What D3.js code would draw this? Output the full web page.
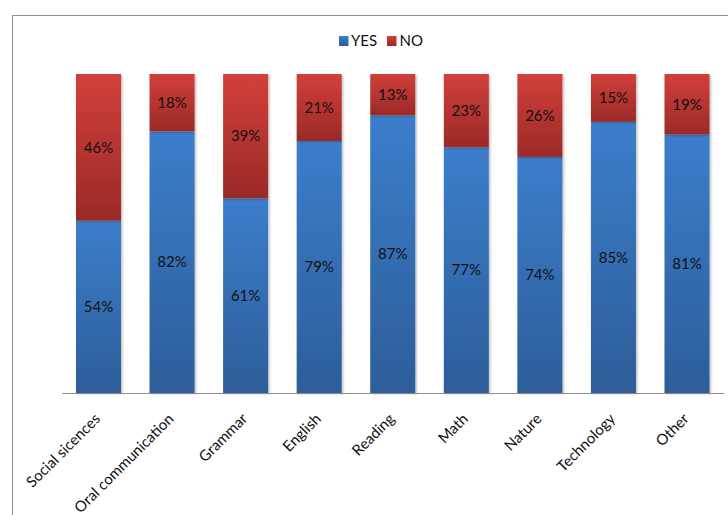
<!DOCTYPE html>
<html><head><meta charset="utf-8">
<script src="https://cdn.jsdelivr.net/npm/d3@7"></script>
<style>body{margin:0;background:#fff;} svg{display:block;font-family:Lato,"Open Sans",sans-serif;}</style>
</head><body>
<svg id="c" width="728" height="515"></svg>
<script>
const categories = ["Social sicences","Oral communication","Grammar","English","Reading","Math","Nature","Technology","Other"];
const yesValues = [54,82,61,79,87,77,74,85,81];
const noValues  = [46,18,39,21,13,23,26,15,19];
const seriesNames = ["YES","NO"];

const svg = d3.select("#c");
const W = 728, H = 515;
const m = {left: 61.7, right: 4.2, top: 74, bottom: 122};
const defs = svg.append("defs");
function grad(id, c1, c2){
  const g = defs.append("linearGradient").attr("id", id).attr("x1",0).attr("y1",0).attr("x2",0).attr("y2",1);
  g.append("stop").attr("offset","0%").attr("stop-color",c1);
  g.append("stop").attr("offset","100%").attr("stop-color",c2);
}
grad("gYes", "#3B7ECB", "#2D5D99");
grad("gNo", "#D23F3B", "#9A2A27");
const f = defs.append("filter").attr("id","sh").attr("x","-20%").attr("y","-20%").attr("width","140%").attr("height","140%");
f.append("feDropShadow").attr("dx",1.5).attr("dy",1).attr("stdDeviation",1.2).attr("flood-color","#000").attr("flood-opacity",0.25);

// frame
svg.append("path").attr("d", `M12.5,${H} V15.5 H${W}`).attr("fill","none").attr("stroke","#8c8c8c").attr("stroke-width",1);

const x = d3.scaleBand().domain(categories).range([m.left, W - m.right]).paddingInner(0.388).paddingOuter(0.194);
const y = d3.scaleLinear().domain([0,100]).range([H - m.bottom, m.top]);

const data = categories.map((c,i)=>({cat:c, YES:yesValues[i], NO:noValues[i]}));
const stacked = d3.stack().keys(seriesNames)(data);
const fills = {YES:"url(#gYes)", NO:"url(#gNo)"};

const gBars = svg.append("g");
stacked.forEach(s=>{
  gBars.append("g").selectAll("rect").data(s).join("rect")
    .attr("x", d=>x(d.data.cat))
    .attr("width", x.bandwidth())
    .attr("y", d=>y(d[1]))
    .attr("height", d=>y(d[0]) - y(d[1]))
    .attr("fill", fills[s.key])
    .attr("filter","url(#sh)");
});
stacked.forEach(s=>{
  svg.append("g").selectAll("text").data(s).join("text")
    .attr("x", d=>x(d.data.cat) + x.bandwidth()/2)
    .attr("y", d=>(y(d[0]) + y(d[1]))/2)
    .attr("dy","0.35em")
    .attr("text-anchor","middle")
    .attr("font-size",15)
    .attr("fill","#111")
    .text(d=>(d[1]-d[0]) + "%");
});

// x axis
const xAxis = svg.append("g").attr("transform", `translate(0,${y(0)})`)
  .call(d3.axisBottom(x).tickSize(0).tickPadding(0));
xAxis.select(".domain").attr("stroke","#8c8c8c").attr("stroke-width",1.2);
xAxis.selectAll("text").attr("font-size",15).attr("fill","#111")
  .attr("font-family","Lato, sans-serif")
  .attr("text-anchor","end")
  .attr("transform","translate(-1,23) rotate(-45)")
  .attr("dy","0.35em").attr("y",0).attr("x",0);

// legend
const leg = svg.append("g").attr("font-size",15);
const legItems = [{k:"YES", x:339, tx:351},{k:"NO", x:387, tx:399.5}];
legItems.forEach(it=>{
  leg.append("rect").attr("x",it.x).attr("y",36).attr("width",9.5).attr("height",10).attr("fill",fills[it.k]);
  leg.append("text").attr("x",it.tx).attr("y",40.5).attr("dy","0.35em").attr("fill","#111").text(it.k);
});
</script>
</body></html>
